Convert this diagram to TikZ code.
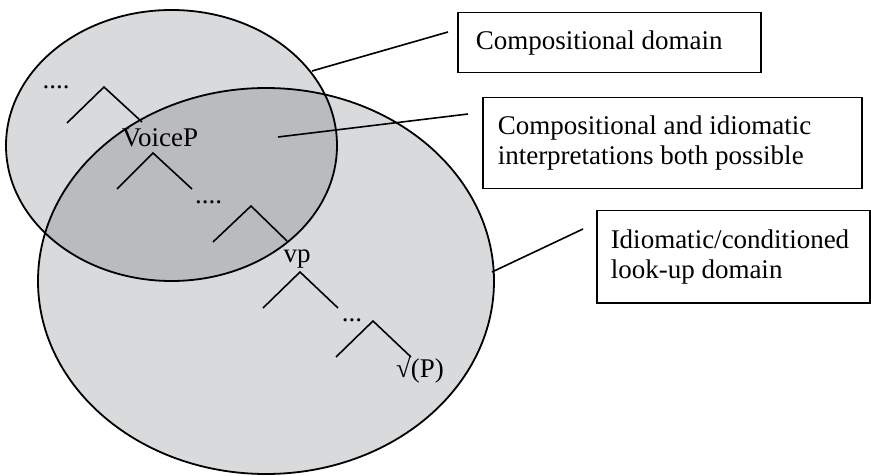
\documentclass[tikz,border=0pt]{standalone}
\usepackage{fontspec}
\setmainfont{Liberation Serif}
\definecolor{lightfill}{RGB}{217,218,220}
\definecolor{darkfill}{RGB}{186,187,191}
\begin{document}
\begin{tikzpicture}[x=1pt,y=-1pt,
  outline/.style={line width=1.8pt, black},
  branch/.style={line width=1.6pt, black},
  leader/.style={line width=1.6pt, black},
  labelbox/.style={draw, line width=1.5pt, fill=white, align=flush left,
    font=\fontsize{27}{30}\selectfont, inner ysep=0pt, anchor=north west},
  treelabel/.style={font=\fontsize{27}{30}\selectfont, inner sep=0pt, anchor=base},
]
\useasboundingbox (0,0) rectangle (871,476);

% domains
\fill[lightfill] (266,281) ellipse [x radius=228, y radius=193];
\fill[lightfill] (171.5,145.5) ellipse [x radius=165.5, y radius=135.5];
\begin{scope}
  \clip (171.5,145.5) ellipse [x radius=165.5, y radius=135.5];
  \fill[darkfill] (266,281) ellipse [x radius=228, y radius=193];
\end{scope}
\draw[outline] (266,281) ellipse [x radius=228, y radius=193];
\draw[outline] (171.5,145.5) ellipse [x radius=165.5, y radius=135.5];

% tree labels
\node[treelabel] (voicep) at (160,147) {VoiceP};
\node[treelabel] (vp) at (297,262) {vp};
\node[treelabel] (root) at (420,377) {√(P)};
\node[treelabel] (dotsA) at (56,89) {....};
\node[treelabel] (dotsB) at (208.5,204) {....};
\node[treelabel] (dotsC) at (352,321) {...};

% tree branches
\coordinate (v1l) at (67,123);  \coordinate (v1a) at (104,87);  \coordinate (v1r) at (142,122);
\coordinate (v2l) at (117,189); \coordinate (v2a) at (153,153); \coordinate (v2r) at (192,189);
\coordinate (v3l) at (213,242); \coordinate (v3a) at (251,206); \coordinate (v3r) at (287,241);
\coordinate (v4l) at (263,308); \coordinate (v4a) at (300,272); \coordinate (v4r) at (338,308);
\coordinate (v5l) at (336,357); \coordinate (v5a) at (373,321); \coordinate (v5r) at (411,357);
\draw[branch] (v1l) -- (v1a) -- (v1r);
\draw[branch] (v2l) -- (v2a) -- (v2r);
\draw[branch] (v3l) -- (v3a) -- (v3r);
\draw[branch] (v4l) -- (v4a) -- (v4r);
\draw[branch] (v5l) -- (v5a) -- (v5r);

% boxes
\node[labelbox, inner xsep=18pt, text width=267pt, minimum height=60pt] (boxA) at (457,12)
  {Compositional domain};
\node[labelbox, inner xsep=15pt, text width=349pt, minimum height=91pt] (boxB) at (482,97)
  {Compositional and idiomatic\\interpretations both possible};
\node[labelbox, inner xsep=14pt, text width=245pt, minimum height=92pt] (boxC) at (596,210)
  {Idiomatic/conditioned\\look-up domain};

% leaders
\coordinate (lAs) at (312,71);  \coordinate (lAe) at (448,32);
\coordinate (lBs) at (278,137); \coordinate (lBe) at (468,114);
\coordinate (lCs) at (492,272); \coordinate (lCe) at (583,229);
\draw[leader] (lAs) -- (lAe);
\draw[leader] (lBs) -- (lBe);
\draw[leader] (lCs) -- (lCe);
\end{tikzpicture}
\end{document}
